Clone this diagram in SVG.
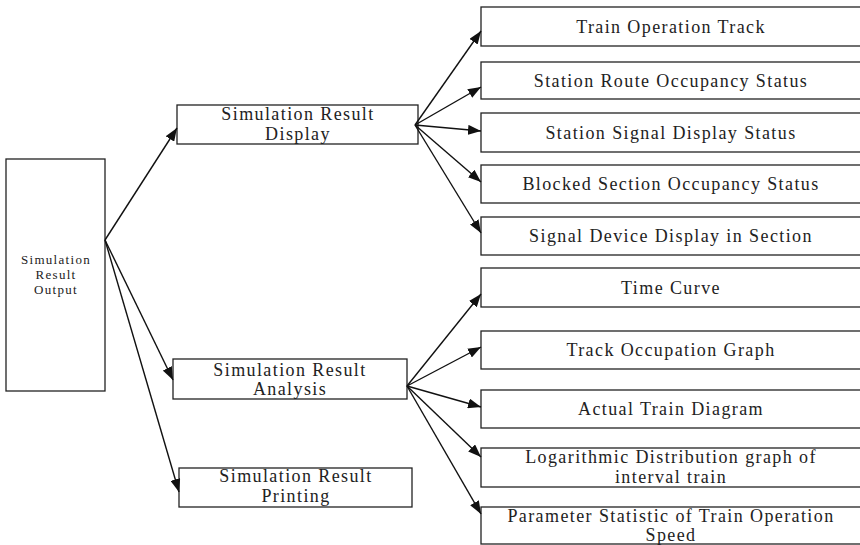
<svg xmlns="http://www.w3.org/2000/svg" width="860" height="545" viewBox="0 0 860 545">
  <style>
    .box { fill: #ffffff; stroke: #222222; stroke-width: 1.3; }
    .lbl { font-family: "Liberation Serif", "Times New Roman", serif; font-size: 18px; letter-spacing: 1.4px; fill: #222222; text-anchor: middle; }
    .small { font-size: 13px; letter-spacing: 1.3px; }
    .edge { stroke: #111111; stroke-width: 1.4; fill: none; marker-end: url(#arrow); }
  </style>
  <defs>
    <marker id="arrow" markerUnits="userSpaceOnUse" markerWidth="14" markerHeight="10" refX="13" refY="5" orient="auto">
      <path d="M0,0 L13,5 L0,10 Z" fill="#111111"/>
    </marker>
  </defs>
  <rect width="860" height="545" fill="#ffffff"/>

  <!-- root -->
  <g id="output">
    <rect class="box" x="6" y="159" width="99" height="232"/>
    <text class="lbl small" x="56" y="264">Simulation</text>
    <text class="lbl small" x="56" y="279">Result</text>
    <text class="lbl small" x="56" y="294">Output</text>
  </g>

  <!-- second level -->
  <g id="display">
    <rect class="box" x="177" y="105" width="241" height="39"/>
    <text class="lbl" x="298" y="120">Simulation Result</text>
    <text class="lbl" x="298" y="140">Display</text>
  </g>
  <g id="analysis">
    <rect class="box" x="173" y="359" width="234" height="40"/>
    <text class="lbl" x="290" y="376">Simulation Result</text>
    <text class="lbl" x="290" y="395">Analysis</text>
  </g>
  <g id="printing">
    <rect class="box" x="179" y="468" width="233" height="39"/>
    <text class="lbl" x="296" y="482">Simulation Result</text>
    <text class="lbl" x="296" y="502">Printing</text>
  </g>

  <!-- display outputs -->
  <g id="track">
    <rect class="box" x="481" y="7" width="385" height="39"/>
    <text class="lbl" x="671" y="33">Train Operation Track</text>
  </g>
  <g id="route">
    <rect class="box" x="481" y="62" width="385" height="37"/>
    <text class="lbl" x="671" y="87">Station Route Occupancy Status</text>
  </g>
  <g id="signal">
    <rect class="box" x="481" y="113" width="385" height="39"/>
    <text class="lbl" x="671" y="139">Station Signal Display Status</text>
  </g>
  <g id="blocked">
    <rect class="box" x="481" y="165" width="385" height="38"/>
    <text class="lbl" x="671" y="190">Blocked Section Occupancy Status</text>
  </g>
  <g id="device">
    <rect class="box" x="481" y="217" width="385" height="38"/>
    <text class="lbl" x="671" y="242">Signal Device Display in Section</text>
  </g>

  <!-- analysis outputs -->
  <g id="timecurve">
    <rect class="box" x="481" y="268" width="385" height="39"/>
    <text class="lbl" x="671" y="294">Time Curve</text>
  </g>
  <g id="occupation">
    <rect class="box" x="481" y="331" width="385" height="38"/>
    <text class="lbl" x="671" y="356">Track Occupation Graph</text>
  </g>
  <g id="actual">
    <rect class="box" x="481" y="390" width="385" height="38"/>
    <text class="lbl" x="671" y="415">Actual Train Diagram</text>
  </g>
  <g id="logdist">
    <rect class="box" x="481" y="448" width="385" height="39"/>
    <text class="lbl" x="671" y="463">Logarithmic Distribution graph of</text>
    <text class="lbl" x="671" y="483">interval train</text>
  </g>
  <g id="speed">
    <rect class="box" x="481" y="507" width="385" height="37"/>
    <text class="lbl" x="671" y="522">Parameter Statistic of Train Operation</text>
    <text class="lbl" x="671" y="541">Speed</text>
  </g>

  <!-- connectors -->
  <g id="connectors">
    <line class="edge" x1="105" y1="240" x2="177" y2="128"/>
    <line class="edge" x1="105" y1="240" x2="173" y2="380"/>
    <line class="edge" x1="105" y1="240" x2="179" y2="492"/>

    <line class="edge" x1="415" y1="125" x2="481" y2="31"/>
    <line class="edge" x1="415" y1="125" x2="481" y2="87"/>
    <line class="edge" x1="415" y1="125" x2="481" y2="131"/>
    <line class="edge" x1="415" y1="125" x2="481" y2="182"/>
    <line class="edge" x1="415" y1="125" x2="481" y2="233"/>

    <line class="edge" x1="407" y1="386" x2="481" y2="294"/>
    <line class="edge" x1="407" y1="386" x2="481" y2="347"/>
    <line class="edge" x1="407" y1="386" x2="481" y2="407"/>
    <line class="edge" x1="407" y1="386" x2="481" y2="457"/>
    <line class="edge" x1="407" y1="386" x2="481" y2="514"/>
  </g>
</svg>
